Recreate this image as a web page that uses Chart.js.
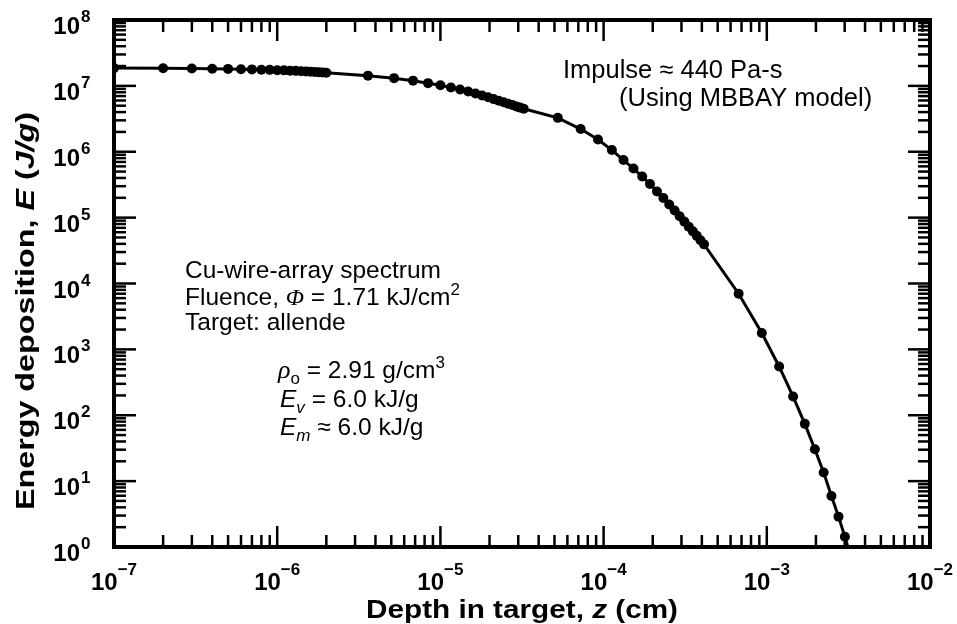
<!DOCTYPE html>
<html lang="en">
<head>
  <meta charset="UTF-8">
  <title>Energy deposition vs depth</title>
  <script src="https://cdn.jsdelivr.net/npm/chart.js"></script>
  <style>
    body {
      margin: 0;
      background: #fff;
    }
    #chart-container {
      width: 957px;
      height: 624px;
    }
  </style>
</head>
<body>

<div id="chart-container">
  <canvas id="chart" width="957" height="624"></canvas>
</div>

<script>
  // depth in target z (cm) and energy deposition E (J/g)
  const depth = [
    1e-7, 2e-7, 3e-7, 4e-7, 5e-7, 6e-7, 7e-7, 8e-7, 9e-7, 1e-6,
    1.1e-6, 1.2e-6, 1.3e-6, 1.4e-6, 1.5e-6, 1.6e-6, 1.7e-6, 1.8e-6, 1.9e-6, 2e-6,
    3.6e-6, 5.2e-6, 6.8e-6, 8.4e-6, 1.0e-5, 1.16e-5, 1.32e-5, 1.48e-5, 1.64e-5, 1.8e-5,
    1.96e-5, 2.12e-5, 2.28e-5, 2.44e-5, 2.6e-5, 2.76e-5, 2.92e-5, 3.08e-5, 3.24e-5,
    5.24e-5, 7.24e-5, 9.24e-5, 1.124e-4, 1.324e-4, 1.524e-4, 1.724e-4, 1.924e-4, 2.124e-4, 2.324e-4,
    2.524e-4, 2.724e-4, 2.924e-4, 3.124e-4, 3.324e-4, 3.524e-4, 3.724e-4, 3.924e-4, 4.124e-4,
    6.72e-4, 9.32e-4, 1.19e-3, 1.45e-3, 1.71e-3, 1.97e-3, 2.23e-3, 2.49e-3, 2.75e-3, 3.01e-3, 3.27e-3
  ];
  const energy = [
    1.86e7, 1.85e7, 1.84e7, 1.82e7, 1.81e7, 1.79e7, 1.78e7, 1.76e7, 1.75e7, 1.73e7,
    1.72e7, 1.70e7, 1.69e7, 1.67e7, 1.66e7, 1.64e7, 1.63e7, 1.61e7, 1.60e7, 1.58e7,
    1.43e7, 1.31e7, 1.20e7, 1.10e7, 1.02e7, 9.45e6, 8.8e6, 8.2e6, 7.65e6, 7.15e6,
    6.7e6, 6.3e6, 5.95e6, 5.64e6, 5.37e6, 5.11e6, 4.88e6, 4.68e6, 4.5e6,
    3.27e6, 2.21e6, 1.53e6, 1.06e6, 7.48e5, 5.56e5, 4.2e5, 3.23e5, 2.5e5, 1.98e5,
    1.58e5, 1.28e5, 1.05e5, 8.7e4, 7.3e4, 6.19e4, 5.29e4, 4.54e4, 3.93e4,
    7.0e3, 1.77e3, 550, 192, 74, 30.5, 13.5, 5.96, 2.89, 1.43, 0.7
  ];

  // axis decades (tick labels are 10^n)
  const xExponents = [-7, -6, -5, -4, -3, -2];
  const yExponents = [0, 1, 2, 3, 4, 5, 6, 7, 8];

  const xTitle = [['Depth in target, ', 'b'], ['z', 'bi'], [' (cm)', 'b']];
  const yTitle = [['Energy deposition, ', 'b'], ['E', 'bi'], [' (', 'b'], ['J/g', 'bi'], [')', 'b']];

  const SANS = "'Liberation Sans', Arial, sans-serif";
  const SERIF = "'Liberation Serif', 'Times New Roman', serif";

  function fontFor(style, size) {
    if (style === 'b') return 'bold ' + size + 'px ' + SANS;
    if (style === 'bi') return 'italic bold ' + size + 'px ' + SANS;
    if (style === 'i') return 'italic ' + size + 'px ' + SANS;
    if (style === 'gi') return 'italic ' + size + 'px ' + SERIF;
    return size + 'px ' + SANS;
  }

  // runs: [text, style, size, dy]
  function runsWidth(ctx, runs) {
    let w = 0;
    runs.forEach(r => {
      ctx.font = fontFor(r[1], r[2]);
      w += ctx.measureText(r[0]).width;
    });
    return w;
  }

  function drawRuns(ctx, x, y, runs) {
    ctx.textAlign = 'left';
    ctx.textBaseline = 'alphabetic';
    runs.forEach(r => {
      ctx.font = fontFor(r[1], r[2]);
      ctx.fillText(r[0], x, y + (r[3] || 0));
      x += ctx.measureText(r[0]).width;
    });
  }

  const notes = [
    { x: 563, y: 78, runs: [['Impulse \u2248 440 Pa-s', 'r', 25.5]] },
    { x: 619, y: 106, runs: [['(Using MBBAY model)', 'r', 25.5]] },
    { x: 185, y: 278, runs: [['Cu-wire-array spectrum', 'r', 24.5]] },
    { x: 185, y: 305, runs: [['Fluence, ', 'r', 24.5], ['\u03A6', 'gi', 24], [' = 1.71 kJ/cm', 'r', 24.5], ['2', 'r', 17, -10]] },
    { x: 185, y: 330, runs: [['Target: allende', 'r', 24.5]] },
    { x: 278, y: 378, runs: [['\u03C1', 'gi', 26], ['o', 'r', 17, 6], [' = 2.91 g/cm', 'r', 24.5], ['3', 'r', 17, -10]] },
    { x: 280, y: 407, runs: [['E', 'i', 24.5], ['v', 'i', 17, 6], [' = 6.0 kJ/g', 'r', 24.5]] },
    { x: 280, y: 435, runs: [['E', 'i', 24.5], ['m', 'i', 17, 6], [' \u2248 6.0 kJ/g', 'r', 24.5]] }
  ];

  const axesDecor = {
    id: 'axesDecor',
    afterDatasetsDraw(chart) {
      const { ctx, chartArea: a, scales: { x, y } } = chart;
      ctx.save();
      ctx.fillStyle = '#000';
      ctx.strokeStyle = '#000';

      function seg(x1, y1, x2, y2) {
        ctx.beginPath();
        ctx.moveTo(x1, y1);
        ctx.lineTo(x2, y2);
        ctx.stroke();
      }

      // tick marks, inside, mirrored on all four sides
      ctx.lineWidth = 2.5;
      xExponents.forEach(e => {
        for (let m = 1; m <= 9; m++) {
          if (e === -2 && m > 1) break;
          const px = x.getPixelForValue(m * Math.pow(10, e));
          const len = m === 1 ? 21 : 12;
          seg(px, a.bottom, px, a.bottom - len);
          seg(px, a.top, px, a.top + len);
        }
      });
      yExponents.forEach(e => {
        for (let m = 1; m <= 9; m++) {
          if (e === 8 && m > 1) break;
          const py = y.getPixelForValue(m * Math.pow(10, e));
          const len = m === 1 ? 22 : 12;
          seg(a.left, py, a.left + len, py);
          seg(a.right, py, a.right - len, py);
        }
      });

      // frame
      ctx.lineWidth = 4;
      ctx.strokeRect(a.left, a.top, a.right - a.left, a.bottom - a.top);

      // x tick labels
      xExponents.forEach(e => {
        const px = x.getPixelForValue(Math.pow(10, e));
        const runs = [['10', 'b', 24, 0], ['\u2212' + Math.abs(e), 'b', 17, -15]];
        const w = runsWidth(ctx, runs);
        drawRuns(ctx, px - w / 2, a.bottom + 43, runs);
      });

      // y tick labels
      yExponents.forEach(e => {
        const py = y.getPixelForValue(Math.pow(10, e));
        ctx.font = fontFor('b', 24);
        ctx.textAlign = 'right';
        ctx.fillText('10', a.left - 34, py + 14);
        ctx.font = fontFor('b', 17);
        ctx.textAlign = 'left';
        ctx.fillText(String(e), a.left - 33, py + 2);
      });

      // axis titles
      const xr = xTitle.map(t => [t[0], t[1], 26]);
      const xw = runsWidth(ctx, xr);
      const xs = 312 / xw;
      ctx.save();
      ctx.translate((a.left + a.right) / 2, 618);
      ctx.scale(xs, 1);
      drawRuns(ctx, -xw / 2, 0, xr);
      ctx.restore();

      const yr = yTitle.map(t => [t[0], t[1], 26]);
      const yw = runsWidth(ctx, yr);
      const ys = 398 / yw;
      ctx.save();
      ctx.translate(34, 311);
      ctx.rotate(-Math.PI / 2);
      ctx.scale(ys, 1);
      drawRuns(ctx, -yw / 2, 0, yr);
      ctx.restore();

      // annotations
      notes.forEach(n => drawRuns(ctx, n.x, n.y, n.runs));

      ctx.restore();
    }
  };

  const points = depth.map((d, i) => ({ x: d, y: energy[i] }));

  const ctx = document.getElementById('chart').getContext('2d');
  const chart = new Chart(ctx, {
    type: 'scatter',
    data: {
      datasets: [{
        label: 'Energy deposition',
        data: points,
        showLine: true,
        borderColor: '#000',
        borderWidth: 3,
        backgroundColor: '#000',
        pointRadius: 5,
        pointBorderWidth: 0,
        tension: 0,
        clip: 0
      }]
    },
    options: {
      responsive: false,
      animation: false,
      devicePixelRatio: 1,
      layout: {
        padding: { left: 114, right: 27, top: 20, bottom: 77 }
      },
      plugins: {
        legend: { display: false },
        tooltip: { enabled: false }
      },
      scales: {
        x: {
          type: 'logarithmic',
          min: 1e-7,
          max: 1e-2,
          grid: { display: false, drawTicks: false },
          border: { display: false },
          ticks: { display: false }
        },
        y: {
          type: 'logarithmic',
          min: 1,
          max: 1e8,
          grid: { display: false, drawTicks: false },
          border: { display: false },
          ticks: { display: false }
        }
      }
    },
    plugins: [axesDecor]
  });
</script>

</body>
</html>
